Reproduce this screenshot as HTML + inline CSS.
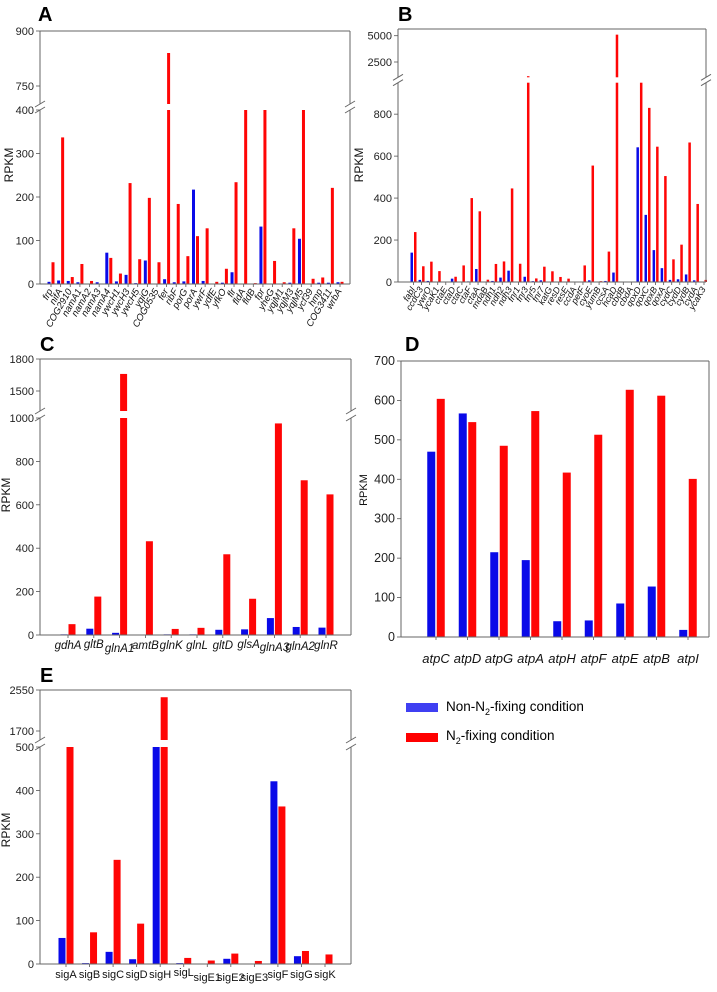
<!DOCTYPE html>
<html><head><meta charset="utf-8">
<style>
html,body{margin:0;padding:0;background:#fff;}
svg{display:block;font-family:"Liberation Sans",Arial,sans-serif;}
</style></head>
<body>
<svg id="fig" width="717" height="992" viewBox="0 0 717 992">
  <text x="38" y="21" font-size="20" font-weight="bold">A</text>
  <text x="398" y="21" font-size="20" font-weight="bold">B</text>
  <text x="40" y="351" font-size="20" font-weight="bold">C</text>
  <text x="405" y="351" font-size="20" font-weight="bold">D</text>
  <text x="40" y="682" font-size="20" font-weight="bold">E</text>
  <g>
    <rect x="406" y="703" width="32" height="9" fill="#3f3ff2"/>
    <text x="446" y="711" font-size="13.5">Non-N<tspan font-size="9" dy="4">2</tspan><tspan dy="-4">-fixing condition</tspan></text>
    <rect x="406" y="733" width="32" height="9" fill="#f00"/>
    <text x="446" y="740" font-size="13.5">N<tspan font-size="9" dy="4">2</tspan><tspan dy="-4">-fixing condition</tspan></text>
  </g>
</svg>
<script>
const aGenes=["frp","nifA","COG2910","namA1","namA2","namA3","namA4","ywcH1","ywcH3","ywcH5","yqiG","COG0535","fer","ribF","porG","porA","ywrF","ydfE","yfkO","flr","fldA","fldB","fpr","yheG","yqjM1","yqjM3","yqjM5","ycf39","hmp","COG3411","wrbA"];
const aBlue=[5,8,7,4,1,4,72,6,21,2,54,1,11,4,6,217,7,1,3,27,1,0,132,1,1,3,104,1,3,3,4];
const aRed=[50,337,16,46,7,1,60,24,232,57,198,50,840,184,64,110,128,5,35,234,400,2,400,53,4,128,400,12,15,221,5];
const aTicksLow=[0,100,200,300,400];
const aTicksHigh=[750,900];

const bGenes=["fabI","ccdC3","ywrO","ycaK1","ctaE","ctaD","ctaC","ctaF","ctaA","mdaB","ndh1","ndh2","ndh3","fnr1","fnr3","fnr5","fnr7","katG","resD","resE","ccdA","petF","cyoE","yumB","ccsA","hcaD","cbdB","cbdA","qoxD","qoxC","qoxB","qoxA","cydC","cydD","cydB","cydA","ycaK3"];
const bBlue=[140,10,5,1,0,16,1,3,62,1,5,21,54,1,25,4,8,0,0,0,0,2,8,0,5,45,0,0,642,320,152,66,10,13,36,8,0];
const bRed=[238,75,97,52,0,25,79,400,337,11,86,98,446,87,1150,17,73,51,24,16,0,79,555,4,145,5100,0,0,950,830,645,505,108,178,665,372,10];
const bTicksLow=[0,200,400,600,800];
const bTicksHigh=[2500,5000];

const cGenes=["gdhA","gltB","glnA1","amtB","glnK","glnL","gltD","glsA","glnA3","glnA2","glnR"];
const cBlue=[3,29,10,2,3,3,24,26,78,37,34];
const cRed=[50,177,1660,432,28,33,372,167,975,713,648];
const cTicksLow=[0,200,400,600,800,1000];
const cTicksHigh=[1500,1800];

const dGenes=["atpC","atpD","atpG","atpA","atpH","atpF","atpE","atpB","atpI"];
const dBlue=[470,567,215,195,40,42,85,128,18];
const dRed=[604,545,485,573,417,513,627,612,401];
const dTicks=[0,100,200,300,400,500,600,700];

const eGenes=["sigA","sigB","sigC","sigD","sigH","sigL","sigE1","sigE2","sigE3","sigF","sigG","sigK"];
const eBlue=[60,2,28,11,500,2,0,12,1,421,18,1];
const eRed=[500,73,240,93,2400,14,8,24,7,363,30,22];
const eTicksLow=[0,100,200,300,400,500];
const eTicksHigh=[1700,2550];

const NS="http://www.w3.org/2000/svg";
const svg=document.getElementById("fig");
function mk(tag,attrs,parent){const e=document.createElementNS(NS,tag);for(const k in attrs)e.setAttribute(k,attrs[k]);(parent||svg).appendChild(e);return e;}

function panel(id,cfg,genes,blue,red,ticksLow,ticksHigh){
  const g=mk("g",{});
  
  
  const yLow=v=>cfg.B-(v/cfg.lowMax)*(cfg.B-cfg.lowTop);
  const hasBreak=!!cfg.up;
  let yHigh=null;
  if(hasBreak){const u=cfg.up;yHigh=v=>u.y1+(v-u.v1)*(u.y2-u.y1)/(u.v2-u.v1);}
  const n=genes.length;
  const xC=i=>cfg.x0+i*(cfg.x1-cfg.x0)/(n-1);
  function bar(x,v,color,name){
    if(v<=0)return;
    const w=cfg.bw;
    const top=Math.max(yLow(Math.min(v,cfg.lowMax)),cfg.lowTop);
    const r=mk("rect",{x:x,y:top,width:w,height:cfg.B-top,fill:color},g);
    
    
    if(hasBreak&&v>cfg.lowMax){
      const yt=yHigh(v);
      if(yt<cfg.upBottom){
        const r2=mk("rect",{x:x,y:yt,width:w,height:cfg.upBottom-yt,fill:color},g);
        
        
      }
    }
  }
  genes.forEach((gn,i)=>{
    const cx=xC(i);
    bar(cx-cfg.bw-cfg.gap/2,blue[i],"#0a0ae8","bar-"+gn+"-non-fixing");
    bar(cx+cfg.gap/2,red[i],"#ff0505","bar-"+gn+"-fixing");
    mk("line",{x1:cx,x2:cx,y1:cfg.B,y2:cfg.B+3,stroke:"#555","stroke-width":0.8},g);
    let t;
    if(cfg.rot){
      t=mk("text",{x:cx+2,y:cfg.B+7,"font-size":cfg.lf,"font-style":"italic","text-anchor":"end",transform:`rotate(-60 ${cx+2} ${cfg.B+7})`,fill:"#111"},g);
    }else{
      const dy=(cfg.stagger&&cfg.stagger[i])||0;
      t=mk("text",{x:cx,y:cfg.B+cfg.ly+dy,"font-size":cfg.lf,"font-style":cfg.ital?"italic":"normal","text-anchor":"middle",fill:"#111"},g);
      if(cfg.lw)t.setAttribute('textLength',cfg.lw),t.setAttribute('lengthAdjust','spacingAndGlyphs');
    }
    t.textContent=gn;
    
    
  });
  const st={stroke:"#666","stroke-width":1,fill:"none"};
  mk("line",Object.assign({x1:cfg.L,x2:cfg.R,y1:cfg.B,y2:cfg.B},st),g);
  mk("line",Object.assign({x1:cfg.L,x2:cfg.R,y1:cfg.T,y2:cfg.T},st),g);
  if(hasBreak){
    const gTop=cfg.upBottom, gBot=cfg.lowTop;
    [cfg.L,cfg.R].forEach(x=>{
      mk("line",Object.assign({x1:x,x2:x,y1:cfg.T,y2:gTop},st),g);
      mk("line",Object.assign({x1:x,x2:x,y1:gBot,y2:cfg.B},st),g);
      mk("line",Object.assign({x1:x-5,x2:x+5,y1:gTop+3,y2:gTop-3},st),g);
      mk("line",Object.assign({x1:x-5,x2:x+5,y1:gBot+3,y2:gBot-3},st),g);
    });
  }else{
    [cfg.L,cfg.R].forEach(x=>mk("line",Object.assign({x1:x,x2:x,y1:cfg.T,y2:cfg.B},st),g));
  }
  function ytick(v,y){
    mk("line",{x1:cfg.L-4,x2:cfg.L,y1:y,y2:y,stroke:"#555","stroke-width":0.8},g);
    const t=mk("text",{x:cfg.L-6,y:y+4,"font-size":cfg.tf,"text-anchor":"end",fill:"#222"},g);
    t.textContent=v;
    
    
  }
  ticksLow.forEach(v=>ytick(v,yLow(v)));
  if(hasBreak)ticksHigh.forEach(v=>ytick(v,yHigh(v)));
  const yt=cfg.titleY;
  const tt=mk("text",{x:cfg.titleX,y:yt,"font-size":cfg.titleF,"text-anchor":"middle",transform:`rotate(-90 ${cfg.titleX} ${yt})`,fill:"#111"},g);
  tt.textContent="RPKM";
  
  
}

panel("a",{L:40,R:350,T:31,B:284,lowMax:400,lowTop:110,up:{v1:750,y1:86,v2:900,y2:31},upBottom:104,x0:51,x1:340,bw:3,gap:1,rot:true,lf:9.5,tf:11,titleX:13,titleY:165,titleF:12},aGenes,aBlue,aRed,aTicksLow,aTicksHigh);
panel("b",{L:398,R:706,T:29,B:282,lowMax:950,lowTop:82.7,up:{v1:2500,y1:62,v2:5000,y2:35.7},upBottom:77.3,x0:413.5,x1:704,bw:2.5,gap:1,rot:true,lf:9,tf:11,titleX:363,titleY:165,titleF:12},bGenes,bBlue,bRed,bTicksLow,bTicksHigh);
panel("c",{L:40,R:351,T:359,B:635,lowMax:1000,lowTop:418,up:{v1:1500,y1:391,v2:1800,y2:359},upBottom:411,x0:68,x1:326,bw:7,gap:1,rot:false,ital:true,lf:11.5,ly:14,stagger:[0,-1,3,0,0,0,0,-1,2,1,0],tf:11,titleX:10,titleY:495,titleF:12},cGenes,cBlue,cRed,cTicksLow,cTicksHigh);
panel("d",{L:401,R:709,T:361,B:637,lowMax:700,lowTop:361,x0:436,x1:688,bw:8,gap:1.5,rot:false,ital:true,lf:13,ly:26,tf:12.5,titleX:367,titleY:490,titleF:11},dGenes,dBlue,dRed,dTicks,[]);
panel("e",{L:40,R:351,T:690,B:964,lowMax:500,lowTop:747,up:{v1:1700,y1:731,v2:2550,y2:690},upBottom:740,x0:66,x1:325,bw:7,gap:1,rot:false,ital:false,lf:11,ly:14,stagger:[0,0,0,0,0,-2,3,3,3,0,0,0],tf:11,titleX:10,titleY:830,titleF:12},eGenes,eBlue,eRed,eTicksLow,eTicksHigh);
</script>
</body></html>
